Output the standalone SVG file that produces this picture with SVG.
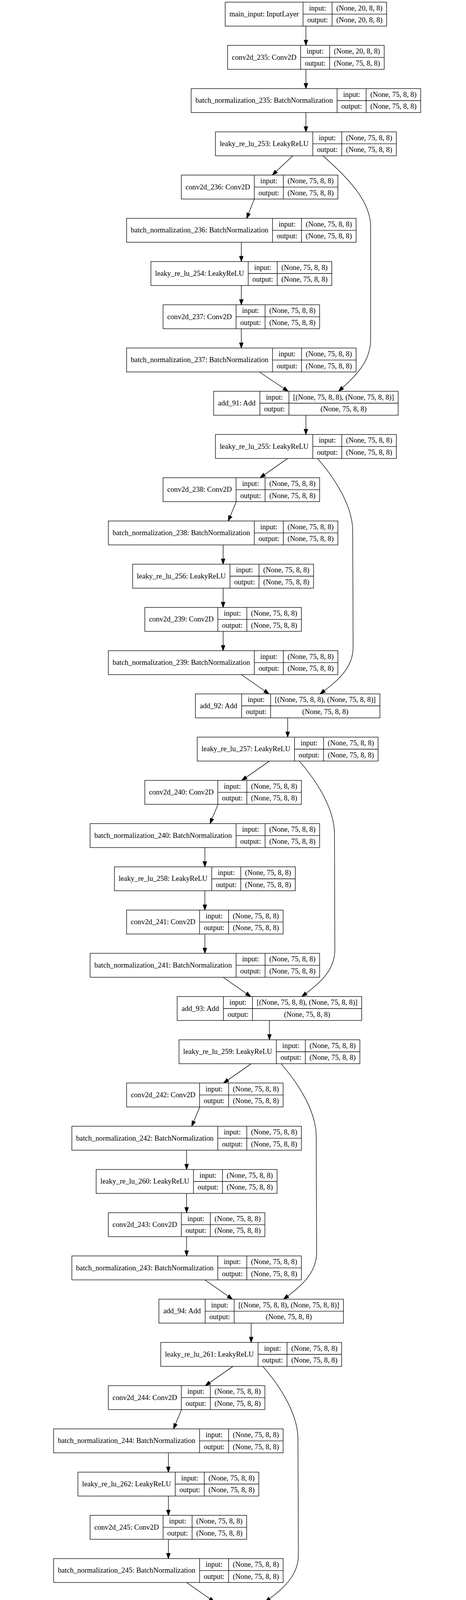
<svg xmlns="http://www.w3.org/2000/svg" width="1192" height="5053" viewBox="0 0 1192 5053">
<style>
.bg{fill:#fff}
.n rect{fill:#fff;stroke:#000;stroke-width:1.33}
.n path{fill:none;stroke:#000;stroke-width:1.33}
text{font-family:"Liberation Serif","Times New Roman",serif;font-size:18.67px;text-anchor:middle;fill:#000}
.e path{fill:none;stroke:#000;stroke-width:1.33;marker-end:url(#ah)}
</style>
<defs>
<marker id="ah" markerUnits="userSpaceOnUse" markerWidth="14" markerHeight="10" viewBox="0 0 14 10" refX="0" refY="5" orient="auto" overflow="visible">
<path d="M0,0.33L13.33,5L0,9.67Z" fill="#000" stroke="#000" stroke-width="1.33"/>
</marker>
</defs>
<rect class="bg" x="0" y="0" width="1192" height="5053"/>

<g id="connectors" class="e">
<path d="M782.5,66.8V102.85"/>
<path d="M782.5,177.48V213.53"/>
<path d="M782.5,288.16V324.21"/>
<path d="M749,398.84L706.39,439.07"/>
<path d="M650.5,509.52L635.9,546.5"/>
<path d="M617.3,620.2V656.25"/>
<path d="M617.3,730.88V766.93"/>
<path d="M617.3,841.56V877.61"/>
<path d="M663.3,952.24L726.21,994.22"/>
<path d="M826.5,398.84C870,439.84 948,504.84 948,579.84L948,869.84C948,925 909.5,962.8 875.94,992.74"/>
<path d="M782.5,1062.92V1098.97"/>

<path d="M735.9,1173.6L676.13,1215.35"/>
<path d="M604.4,1284.28L589.01,1321.35"/>
<path d="M570.7,1394.96V1431.01"/>
<path d="M570.7,1505.64V1541.69"/>
<path d="M570.7,1616.32V1652.37"/>
<path d="M617.3,1727L677.07,1768.75"/>
<path d="M812.3,1173.6C841.7,1207.2 902.2,1285.2 902.2,1360.2L903.2,1657.2C903.2,1710.2 861.4,1744.4 829.4,1768.4"/>
<path d="M735.8,1837.68V1873.73"/>

<path d="M689.23,1948.36L629.46,1990.11"/>
<path d="M557.73,2059.04L542.34,2096.11"/>
<path d="M524.03,2169.72V2205.77"/>
<path d="M524.03,2280.4V2316.45"/>
<path d="M524.03,2391.08V2427.13"/>
<path d="M570.63,2501.76L630.4,2543.51"/>
<path d="M765.63,1948.36C795.03,1981.96 855.53,2059.96 855.53,2134.96L856.53,2431.96C856.53,2484.96 814.73,2519.16 782.73,2543.16"/>
<path d="M689.13,2612.44V2648.49"/>

<path d="M642.56,2723.12L582.79,2764.87"/>
<path d="M511.06,2833.8L495.67,2870.87"/>
<path d="M477.36,2944.48V2980.53"/>
<path d="M477.36,3055.16V3091.21"/>
<path d="M477.36,3165.84V3201.89"/>
<path d="M523.96,3276.52L583.73,3318.27"/>
<path d="M718.96,2723.12C748.36,2756.72 808.86,2834.72 808.86,2909.72L809.86,3206.72C809.86,3259.72 768.06,3293.92 736.06,3317.92"/>
<path d="M642.46,3387.2V3423.25"/>

<path d="M595.89,3497.88L536.12,3539.63"/>
<path d="M464.39,3608.56L449,3645.63"/>
<path d="M430.69,3719.24V3755.29"/>
<path d="M430.69,3829.92V3865.97"/>
<path d="M430.69,3940.6V3976.65"/>
<path d="M477.29,4051.28L537.06,4093.03"/>
<path d="M672.29,3497.88C701.69,3531.48 762.19,3609.48 762.19,3684.48L763.19,3981.48C763.19,4034.48 721.39,4068.68 689.39,4092.68"/>
<path d="M595.79,4161.96V4198.01"/>

<path d="M536,4272.64L454.97,4315.76"/>
<path d="M667.5,4272.64L769.76,4316.74"/>
<path d="M357.3,4383.32L327.43,4422.14"/>
<path d="M865.4,4383.32L880.71,4420.38"/>
<path d="M294.2,4494V4530.05"/>
<path d="M294.2,4604.68V4640.73"/>
<path d="M294.2,4715.36V4751.41"/>
<path d="M294.2,4826.04V4862.09"/>
<path d="M294.2,4936.72V4972.77"/>
<path d="M897.8,4494V4530.05"/>
<path d="M897.8,4604.68V4640.73"/>
<path d="M897.8,4715.36V4751.41"/>
</g>

<g id="main_input" class="n" transform="translate(576.04,5.5)"><rect width="412.93" height="61.3"/><path d="M199.17,0V61.3M273.4,0V61.3M199.17,30.65H412.93"/><text x="99.59" y="36.4">main_input: InputLayer</text><text x="236.29" y="21">input:</text><text x="236.29" y="51.6">output:</text><text x="343.17" y="21">(None, 20, 8, 8)</text><text x="343.17" y="51.6">(None, 20, 8, 8)</text></g>

<g id="conv2d_235" class="n" transform="translate(582.25,116.18)"><rect width="400.5" height="61.3"/><path d="M186.74,0V61.3M260.97,0V61.3M186.74,30.65H400.5"/><text x="93.37" y="36.4">conv2d_235: Conv2D</text><text x="223.86" y="21">input:</text><text x="223.86" y="51.6">output:</text><text x="330.74" y="21">(None, 20, 8, 8)</text><text x="330.74" y="51.6">(None, 75, 8, 8)</text></g>

<g id="batch_normalization_235" class="n" transform="translate(488.94,226.86)"><rect width="587.12" height="61.3"/><path d="M373.36,0V61.3M447.59,0V61.3M373.36,30.65H587.12"/><text x="186.68" y="36.4">batch_normalization_235: BatchNormalization</text><text x="410.48" y="21">input:</text><text x="410.48" y="51.6">output:</text><text x="517.36" y="21">(None, 75, 8, 8)</text><text x="517.36" y="51.6">(None, 75, 8, 8)</text></g>

<g id="leaky_re_lu_253" class="n" transform="translate(551.17,337.54)"><rect width="462.67" height="61.3"/><path d="M248.91,0V61.3M323.14,0V61.3M248.91,30.65H462.67"/><text x="124.46" y="36.4">leaky_re_lu_253: LeakyReLU</text><text x="286.03" y="21">input:</text><text x="286.03" y="51.6">output:</text><text x="392.91" y="21">(None, 75, 8, 8)</text><text x="392.91" y="51.6">(None, 75, 8, 8)</text></g>

<g id="conv2d_236" class="n" transform="translate(463.75,448.22)"><rect width="400.5" height="61.3"/><path d="M186.74,0V61.3M260.97,0V61.3M186.74,30.65H400.5"/><text x="93.37" y="36.4">conv2d_236: Conv2D</text><text x="223.86" y="21">input:</text><text x="223.86" y="51.6">output:</text><text x="330.74" y="21">(None, 75, 8, 8)</text><text x="330.74" y="51.6">(None, 75, 8, 8)</text></g>

<g id="batch_normalization_236" class="n" transform="translate(323.74,558.9)"><rect width="587.12" height="61.3"/><path d="M373.36,0V61.3M447.59,0V61.3M373.36,30.65H587.12"/><text x="186.68" y="36.4">batch_normalization_236: BatchNormalization</text><text x="410.48" y="21">input:</text><text x="410.48" y="51.6">output:</text><text x="517.36" y="21">(None, 75, 8, 8)</text><text x="517.36" y="51.6">(None, 75, 8, 8)</text></g>

<g id="leaky_re_lu_254" class="n" transform="translate(385.97,669.58)"><rect width="462.67" height="61.3"/><path d="M248.91,0V61.3M323.14,0V61.3M248.91,30.65H462.67"/><text x="124.46" y="36.4">leaky_re_lu_254: LeakyReLU</text><text x="286.03" y="21">input:</text><text x="286.03" y="51.6">output:</text><text x="392.91" y="21">(None, 75, 8, 8)</text><text x="392.91" y="51.6">(None, 75, 8, 8)</text></g>

<g id="conv2d_237" class="n" transform="translate(417.05,780.26)"><rect width="400.5" height="61.3"/><path d="M186.74,0V61.3M260.97,0V61.3M186.74,30.65H400.5"/><text x="93.37" y="36.4">conv2d_237: Conv2D</text><text x="223.86" y="21">input:</text><text x="223.86" y="51.6">output:</text><text x="330.74" y="21">(None, 75, 8, 8)</text><text x="330.74" y="51.6">(None, 75, 8, 8)</text></g>

<g id="batch_normalization_237" class="n" transform="translate(323.74,890.94)"><rect width="587.12" height="61.3"/><path d="M373.36,0V61.3M447.59,0V61.3M373.36,30.65H587.12"/><text x="186.68" y="36.4">batch_normalization_237: BatchNormalization</text><text x="410.48" y="21">input:</text><text x="410.48" y="51.6">output:</text><text x="517.36" y="21">(None, 75, 8, 8)</text><text x="517.36" y="51.6">(None, 75, 8, 8)</text></g>

<g id="add_91" class="n" transform="translate(546.5,1001.62)"><rect width="472" height="61.3"/><path d="M118.28,0V61.3M192.51,0V61.3M118.28,30.65H472"/><text x="59.14" y="36.4">add_91: Add</text><text x="155.4" y="21">input:</text><text x="155.4" y="51.6">output:</text><text x="332.26" y="21">[(None, 75, 8, 8), (None, 75, 8, 8)]</text><text x="332.26" y="51.6">(None, 75, 8, 8)</text></g>

<g id="leaky_re_lu_255" class="n" transform="translate(551.17,1112.3)"><rect width="462.67" height="61.3"/><path d="M248.91,0V61.3M323.14,0V61.3M248.91,30.65H462.67"/><text x="124.46" y="36.4">leaky_re_lu_255: LeakyReLU</text><text x="286.03" y="21">input:</text><text x="286.03" y="51.6">output:</text><text x="392.91" y="21">(None, 75, 8, 8)</text><text x="392.91" y="51.6">(None, 75, 8, 8)</text></g>

<g id="conv2d_238" class="n" transform="translate(417.05,1222.98)"><rect width="400.5" height="61.3"/><path d="M186.74,0V61.3M260.97,0V61.3M186.74,30.65H400.5"/><text x="93.37" y="36.4">conv2d_238: Conv2D</text><text x="223.86" y="21">input:</text><text x="223.86" y="51.6">output:</text><text x="330.74" y="21">(None, 75, 8, 8)</text><text x="330.74" y="51.6">(None, 75, 8, 8)</text></g>

<g id="batch_normalization_238" class="n" transform="translate(277.14,1333.66)"><rect width="587.12" height="61.3"/><path d="M373.36,0V61.3M447.59,0V61.3M373.36,30.65H587.12"/><text x="186.68" y="36.4">batch_normalization_238: BatchNormalization</text><text x="410.48" y="21">input:</text><text x="410.48" y="51.6">output:</text><text x="517.36" y="21">(None, 75, 8, 8)</text><text x="517.36" y="51.6">(None, 75, 8, 8)</text></g>

<g id="leaky_re_lu_256" class="n" transform="translate(339.37,1444.34)"><rect width="462.67" height="61.3"/><path d="M248.91,0V61.3M323.14,0V61.3M248.91,30.65H462.67"/><text x="124.46" y="36.4">leaky_re_lu_256: LeakyReLU</text><text x="286.03" y="21">input:</text><text x="286.03" y="51.6">output:</text><text x="392.91" y="21">(None, 75, 8, 8)</text><text x="392.91" y="51.6">(None, 75, 8, 8)</text></g>

<g id="conv2d_239" class="n" transform="translate(370.45,1555.02)"><rect width="400.5" height="61.3"/><path d="M186.74,0V61.3M260.97,0V61.3M186.74,30.65H400.5"/><text x="93.37" y="36.4">conv2d_239: Conv2D</text><text x="223.86" y="21">input:</text><text x="223.86" y="51.6">output:</text><text x="330.74" y="21">(None, 75, 8, 8)</text><text x="330.74" y="51.6">(None, 75, 8, 8)</text></g>

<g id="batch_normalization_239" class="n" transform="translate(277.14,1665.7)"><rect width="587.12" height="61.3"/><path d="M373.36,0V61.3M447.59,0V61.3M373.36,30.65H587.12"/><text x="186.68" y="36.4">batch_normalization_239: BatchNormalization</text><text x="410.48" y="21">input:</text><text x="410.48" y="51.6">output:</text><text x="517.36" y="21">(None, 75, 8, 8)</text><text x="517.36" y="51.6">(None, 75, 8, 8)</text></g>

<g id="add_92" class="n" transform="translate(499.8,1776.38)"><rect width="472" height="61.3"/><path d="M118.28,0V61.3M192.51,0V61.3M118.28,30.65H472"/><text x="59.14" y="36.4">add_92: Add</text><text x="155.4" y="21">input:</text><text x="155.4" y="51.6">output:</text><text x="332.26" y="21">[(None, 75, 8, 8), (None, 75, 8, 8)]</text><text x="332.26" y="51.6">(None, 75, 8, 8)</text></g>

<g id="leaky_re_lu_257" class="n" transform="translate(504.47,1887.06)"><rect width="462.67" height="61.3"/><path d="M248.91,0V61.3M323.14,0V61.3M248.91,30.65H462.67"/><text x="124.46" y="36.4">leaky_re_lu_257: LeakyReLU</text><text x="286.03" y="21">input:</text><text x="286.03" y="51.6">output:</text><text x="392.91" y="21">(None, 75, 8, 8)</text><text x="392.91" y="51.6">(None, 75, 8, 8)</text></g>

<g id="conv2d_240" class="n" transform="translate(370.45,1997.74)"><rect width="400.5" height="61.3"/><path d="M186.74,0V61.3M260.97,0V61.3M186.74,30.65H400.5"/><text x="93.37" y="36.4">conv2d_240: Conv2D</text><text x="223.86" y="21">input:</text><text x="223.86" y="51.6">output:</text><text x="330.74" y="21">(None, 75, 8, 8)</text><text x="330.74" y="51.6">(None, 75, 8, 8)</text></g>

<g id="batch_normalization_240" class="n" transform="translate(230.44,2108.42)"><rect width="587.12" height="61.3"/><path d="M373.36,0V61.3M447.59,0V61.3M373.36,30.65H587.12"/><text x="186.68" y="36.4">batch_normalization_240: BatchNormalization</text><text x="410.48" y="21">input:</text><text x="410.48" y="51.6">output:</text><text x="517.36" y="21">(None, 75, 8, 8)</text><text x="517.36" y="51.6">(None, 75, 8, 8)</text></g>

<g id="leaky_re_lu_258" class="n" transform="translate(292.67,2219.1)"><rect width="462.67" height="61.3"/><path d="M248.91,0V61.3M323.14,0V61.3M248.91,30.65H462.67"/><text x="124.46" y="36.4">leaky_re_lu_258: LeakyReLU</text><text x="286.03" y="21">input:</text><text x="286.03" y="51.6">output:</text><text x="392.91" y="21">(None, 75, 8, 8)</text><text x="392.91" y="51.6">(None, 75, 8, 8)</text></g>

<g id="conv2d_241" class="n" transform="translate(323.75,2329.78)"><rect width="400.5" height="61.3"/><path d="M186.74,0V61.3M260.97,0V61.3M186.74,30.65H400.5"/><text x="93.37" y="36.4">conv2d_241: Conv2D</text><text x="223.86" y="21">input:</text><text x="223.86" y="51.6">output:</text><text x="330.74" y="21">(None, 75, 8, 8)</text><text x="330.74" y="51.6">(None, 75, 8, 8)</text></g>

<g id="batch_normalization_241" class="n" transform="translate(230.44,2440.46)"><rect width="587.12" height="61.3"/><path d="M373.36,0V61.3M447.59,0V61.3M373.36,30.65H587.12"/><text x="186.68" y="36.4">batch_normalization_241: BatchNormalization</text><text x="410.48" y="21">input:</text><text x="410.48" y="51.6">output:</text><text x="517.36" y="21">(None, 75, 8, 8)</text><text x="517.36" y="51.6">(None, 75, 8, 8)</text></g>

<g id="add_93" class="n" transform="translate(453.2,2551.14)"><rect width="472" height="61.3"/><path d="M118.28,0V61.3M192.51,0V61.3M118.28,30.65H472"/><text x="59.14" y="36.4">add_93: Add</text><text x="155.4" y="21">input:</text><text x="155.4" y="51.6">output:</text><text x="332.26" y="21">[(None, 75, 8, 8), (None, 75, 8, 8)]</text><text x="332.26" y="51.6">(None, 75, 8, 8)</text></g>

<g id="leaky_re_lu_259" class="n" transform="translate(457.87,2661.82)"><rect width="462.67" height="61.3"/><path d="M248.91,0V61.3M323.14,0V61.3M248.91,30.65H462.67"/><text x="124.46" y="36.4">leaky_re_lu_259: LeakyReLU</text><text x="286.03" y="21">input:</text><text x="286.03" y="51.6">output:</text><text x="392.91" y="21">(None, 75, 8, 8)</text><text x="392.91" y="51.6">(None, 75, 8, 8)</text></g>

<g id="conv2d_242" class="n" transform="translate(323.75,2772.5)"><rect width="400.5" height="61.3"/><path d="M186.74,0V61.3M260.97,0V61.3M186.74,30.65H400.5"/><text x="93.37" y="36.4">conv2d_242: Conv2D</text><text x="223.86" y="21">input:</text><text x="223.86" y="51.6">output:</text><text x="330.74" y="21">(None, 75, 8, 8)</text><text x="330.74" y="51.6">(None, 75, 8, 8)</text></g>

<g id="batch_normalization_242" class="n" transform="translate(183.74,2883.18)"><rect width="587.12" height="61.3"/><path d="M373.36,0V61.3M447.59,0V61.3M373.36,30.65H587.12"/><text x="186.68" y="36.4">batch_normalization_242: BatchNormalization</text><text x="410.48" y="21">input:</text><text x="410.48" y="51.6">output:</text><text x="517.36" y="21">(None, 75, 8, 8)</text><text x="517.36" y="51.6">(None, 75, 8, 8)</text></g>

<g id="leaky_re_lu_260" class="n" transform="translate(245.97,2993.86)"><rect width="462.67" height="61.3"/><path d="M248.91,0V61.3M323.14,0V61.3M248.91,30.65H462.67"/><text x="124.46" y="36.4">leaky_re_lu_260: LeakyReLU</text><text x="286.03" y="21">input:</text><text x="286.03" y="51.6">output:</text><text x="392.91" y="21">(None, 75, 8, 8)</text><text x="392.91" y="51.6">(None, 75, 8, 8)</text></g>

<g id="conv2d_243" class="n" transform="translate(277.05,3104.54)"><rect width="400.5" height="61.3"/><path d="M186.74,0V61.3M260.97,0V61.3M186.74,30.65H400.5"/><text x="93.37" y="36.4">conv2d_243: Conv2D</text><text x="223.86" y="21">input:</text><text x="223.86" y="51.6">output:</text><text x="330.74" y="21">(None, 75, 8, 8)</text><text x="330.74" y="51.6">(None, 75, 8, 8)</text></g>

<g id="batch_normalization_243" class="n" transform="translate(183.74,3215.22)"><rect width="587.12" height="61.3"/><path d="M373.36,0V61.3M447.59,0V61.3M373.36,30.65H587.12"/><text x="186.68" y="36.4">batch_normalization_243: BatchNormalization</text><text x="410.48" y="21">input:</text><text x="410.48" y="51.6">output:</text><text x="517.36" y="21">(None, 75, 8, 8)</text><text x="517.36" y="51.6">(None, 75, 8, 8)</text></g>

<g id="add_94" class="n" transform="translate(406.5,3325.9)"><rect width="472" height="61.3"/><path d="M118.28,0V61.3M192.51,0V61.3M118.28,30.65H472"/><text x="59.14" y="36.4">add_94: Add</text><text x="155.4" y="21">input:</text><text x="155.4" y="51.6">output:</text><text x="332.26" y="21">[(None, 75, 8, 8), (None, 75, 8, 8)]</text><text x="332.26" y="51.6">(None, 75, 8, 8)</text></g>

<g id="leaky_re_lu_261" class="n" transform="translate(411.17,3436.58)"><rect width="462.67" height="61.3"/><path d="M248.91,0V61.3M323.14,0V61.3M248.91,30.65H462.67"/><text x="124.46" y="36.4">leaky_re_lu_261: LeakyReLU</text><text x="286.03" y="21">input:</text><text x="286.03" y="51.6">output:</text><text x="392.91" y="21">(None, 75, 8, 8)</text><text x="392.91" y="51.6">(None, 75, 8, 8)</text></g>

<g id="conv2d_244" class="n" transform="translate(277.05,3547.26)"><rect width="400.5" height="61.3"/><path d="M186.74,0V61.3M260.97,0V61.3M186.74,30.65H400.5"/><text x="93.37" y="36.4">conv2d_244: Conv2D</text><text x="223.86" y="21">input:</text><text x="223.86" y="51.6">output:</text><text x="330.74" y="21">(None, 75, 8, 8)</text><text x="330.74" y="51.6">(None, 75, 8, 8)</text></g>

<g id="batch_normalization_244" class="n" transform="translate(137.14,3657.94)"><rect width="587.12" height="61.3"/><path d="M373.36,0V61.3M447.59,0V61.3M373.36,30.65H587.12"/><text x="186.68" y="36.4">batch_normalization_244: BatchNormalization</text><text x="410.48" y="21">input:</text><text x="410.48" y="51.6">output:</text><text x="517.36" y="21">(None, 75, 8, 8)</text><text x="517.36" y="51.6">(None, 75, 8, 8)</text></g>

<g id="leaky_re_lu_262" class="n" transform="translate(199.37,3768.62)"><rect width="462.67" height="61.3"/><path d="M248.91,0V61.3M323.14,0V61.3M248.91,30.65H462.67"/><text x="124.46" y="36.4">leaky_re_lu_262: LeakyReLU</text><text x="286.03" y="21">input:</text><text x="286.03" y="51.6">output:</text><text x="392.91" y="21">(None, 75, 8, 8)</text><text x="392.91" y="51.6">(None, 75, 8, 8)</text></g>

<g id="conv2d_245" class="n" transform="translate(230.45,3879.3)"><rect width="400.5" height="61.3"/><path d="M186.74,0V61.3M260.97,0V61.3M186.74,30.65H400.5"/><text x="93.37" y="36.4">conv2d_245: Conv2D</text><text x="223.86" y="21">input:</text><text x="223.86" y="51.6">output:</text><text x="330.74" y="21">(None, 75, 8, 8)</text><text x="330.74" y="51.6">(None, 75, 8, 8)</text></g>

<g id="batch_normalization_245" class="n" transform="translate(137.14,3989.98)"><rect width="587.12" height="61.3"/><path d="M373.36,0V61.3M447.59,0V61.3M373.36,30.65H587.12"/><text x="186.68" y="36.4">batch_normalization_245: BatchNormalization</text><text x="410.48" y="21">input:</text><text x="410.48" y="51.6">output:</text><text x="517.36" y="21">(None, 75, 8, 8)</text><text x="517.36" y="51.6">(None, 75, 8, 8)</text></g>

<g id="add_95" class="n" transform="translate(359.8,4100.66)"><rect width="472" height="61.3"/><path d="M118.28,0V61.3M192.51,0V61.3M118.28,30.65H472"/><text x="59.14" y="36.4">add_95: Add</text><text x="155.4" y="21">input:</text><text x="155.4" y="51.6">output:</text><text x="332.26" y="21">[(None, 75, 8, 8), (None, 75, 8, 8)]</text><text x="332.26" y="51.6">(None, 75, 8, 8)</text></g>

<g id="leaky_re_lu_263" class="n" transform="translate(364.47,4211.34)"><rect width="462.67" height="61.3"/><path d="M248.91,0V61.3M323.14,0V61.3M248.91,30.65H462.67"/><text x="124.46" y="36.4">leaky_re_lu_263: LeakyReLU</text><text x="286.03" y="21">input:</text><text x="286.03" y="51.6">output:</text><text x="392.91" y="21">(None, 75, 8, 8)</text><text x="392.91" y="51.6">(None, 75, 8, 8)</text></g>

<g id="conv2d_246" class="n" transform="translate(182.15,4322.02)"><rect width="400.5" height="61.3"/><path d="M186.74,0V61.3M260.97,0V61.3M186.74,30.65H400.5"/><text x="93.37" y="36.4">conv2d_246: Conv2D</text><text x="223.86" y="21">input:</text><text x="223.86" y="51.6">output:</text><text x="330.74" y="21">(None, 75, 8, 8)</text><text x="330.74" y="51.6">(None, 1, 8, 8)</text></g>

<g id="conv2d_247" class="n" transform="translate(652.5,4322.02)"><rect width="400.5" height="61.3"/><path d="M186.74,0V61.3M260.97,0V61.3M186.74,30.65H400.5"/><text x="93.37" y="36.4">conv2d_247: Conv2D</text><text x="223.86" y="21">input:</text><text x="223.86" y="51.6">output:</text><text x="330.74" y="21">(None, 75, 8, 8)</text><text x="330.74" y="51.6">(None, 2, 8, 8)</text></g>

<g id="batch_normalization_246" class="n" transform="translate(5.31,4432.7)"><rect width="577.78" height="61.3"/><path d="M373.36,0V61.3M447.59,0V61.3M373.36,30.65H577.78"/><text x="186.68" y="36.4">batch_normalization_246: BatchNormalization</text><text x="410.48" y="21">input:</text><text x="410.48" y="51.6">output:</text><text x="512.69" y="21">(None, 1, 8, 8)</text><text x="512.69" y="51.6">(None, 1, 8, 8)</text></g>

<g id="batch_normalization_247" class="n" transform="translate(608.91,4432.7)"><rect width="577.78" height="61.3"/><path d="M373.36,0V61.3M447.59,0V61.3M373.36,30.65H577.78"/><text x="186.68" y="36.4">batch_normalization_247: BatchNormalization</text><text x="410.48" y="21">input:</text><text x="410.48" y="51.6">output:</text><text x="512.69" y="21">(None, 2, 8, 8)</text><text x="512.69" y="51.6">(None, 2, 8, 8)</text></g>

<g id="leaky_re_lu_264" class="n" transform="translate(67.54,4543.38)"><rect width="453.33" height="61.3"/><path d="M248.91,0V61.3M323.14,0V61.3M248.91,30.65H453.33"/><text x="124.46" y="36.4">leaky_re_lu_264: LeakyReLU</text><text x="286.03" y="21">input:</text><text x="286.03" y="51.6">output:</text><text x="388.24" y="21">(None, 1, 8, 8)</text><text x="388.24" y="51.6">(None, 1, 8, 8)</text></g>

<g id="leaky_re_lu_266" class="n" transform="translate(671.14,4543.38)"><rect width="453.33" height="61.3"/><path d="M248.91,0V61.3M323.14,0V61.3M248.91,30.65H453.33"/><text x="124.46" y="36.4">leaky_re_lu_266: LeakyReLU</text><text x="286.03" y="21">input:</text><text x="286.03" y="51.6">output:</text><text x="388.24" y="21">(None, 2, 8, 8)</text><text x="388.24" y="51.6">(None, 2, 8, 8)</text></g>

<g id="flatten_37" class="n" transform="translate(112.62,4654.06)"><rect width="363.16" height="61.3"/><path d="M158.74,0V61.3M232.97,0V61.3M158.74,30.65H363.16"/><text x="79.37" y="36.4">flatten_37: Flatten</text><text x="195.86" y="21">input:</text><text x="195.86" y="51.6">output:</text><text x="298.07" y="21">(None, 1, 8, 8)</text><text x="298.07" y="51.6">(None, 64)</text></g>

<g id="flatten_38" class="n" transform="translate(716.22,4654.06)"><rect width="363.16" height="61.3"/><path d="M158.74,0V61.3M232.97,0V61.3M158.74,30.65H363.16"/><text x="79.37" y="36.4">flatten_38: Flatten</text><text x="195.86" y="21">input:</text><text x="195.86" y="51.6">output:</text><text x="298.07" y="21">(None, 2, 8, 8)</text><text x="298.07" y="51.6">(None, 128)</text></g>

<g id="dense_19" class="n" transform="translate(131.82,4764.74)"><rect width="324.76" height="61.3"/><path d="M148.34,0V61.3M222.57,0V61.3M148.34,30.65H324.76"/><text x="74.17" y="36.4">dense_19: Dense</text><text x="185.46" y="21">input:</text><text x="185.46" y="51.6">output:</text><text x="273.67" y="21">(None, 64)</text><text x="273.67" y="51.6">(None, 20)</text></g>

<g id="policy_head" class="n" transform="translate(715.72,4764.74)"><rect width="364.17" height="61.3"/><path d="M169.08,0V61.3M243.31,0V61.3M169.08,30.65H364.17"/><text x="84.54" y="36.4">policy_head: Dense</text><text x="206.2" y="21">input:</text><text x="206.2" y="51.6">output:</text><text x="303.74" y="21">(None, 128)</text><text x="303.74" y="51.6">(None, 4608)</text></g>

<g id="leaky_re_lu_265" class="n" transform="translate(81.54,4875.42)"><rect width="425.33" height="61.3"/><path d="M248.91,0V61.3M323.14,0V61.3M248.91,30.65H425.33"/><text x="124.46" y="36.4">leaky_re_lu_265: LeakyReLU</text><text x="286.03" y="21">input:</text><text x="286.03" y="51.6">output:</text><text x="374.24" y="21">(None, 20)</text><text x="374.24" y="51.6">(None, 20)</text></g>

<g id="value_head" class="n" transform="translate(124.57,4986.1)"><rect width="339.26" height="61.3"/><path d="M162.84,0V61.3M237.07,0V61.3M162.84,30.65H339.26"/><text x="81.42" y="36.4">value_head: Dense</text><text x="199.96" y="21">input:</text><text x="199.96" y="51.6">output:</text><text x="288.17" y="21">(None, 20)</text><text x="288.17" y="51.6">(None, 1)</text></g>
</svg>
